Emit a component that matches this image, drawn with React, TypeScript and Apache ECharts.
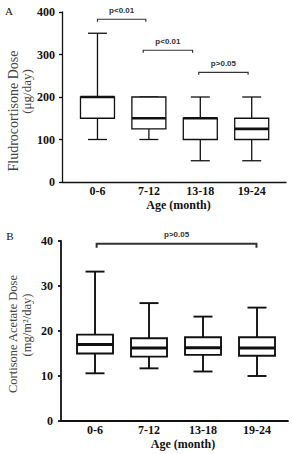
import React, { useEffect, useRef } from "react";
import * as echarts from "echarts";

const categories = ["0-6", "7-12", "13-18", "19-24"];

// Panel A: Fludrocortisone dose (µg/day)
const fludroMin = [100, 100, 50, 50];
const fludroQ1 = [150, 125, 100, 100];
const fludroMedian = [200, 150, 150, 125];
const fludroQ3 = [200, 200, 150, 150];
const fludroMax = [350, 200, 200, 200];
const fludroTicks = [0, 100, 200, 300, 400];

// Panel B: Cortisone acetate dose (mg/m²/day)
const cortMin = [10.6, 11.7, 11.0, 10.0];
const cortQ1 = [15.0, 14.3, 14.7, 14.5];
const cortMedian = [17.0, 16.2, 16.3, 16.2];
const cortQ3 = [19.2, 18.4, 18.6, 18.6];
const cortMax = [33.2, 26.2, 23.2, 25.2];
const cortTicks = [0, 10, 20, 30, 40];

// significance brackets
const bracketsAFrom = [0, 0.89, 1.97];
const bracketsATo = [0.94, 1.85, 2.93];
const bracketsAY = [383, 310, 258];
const bracketsALabel = ["p<0.01", "p<0.01", "p>0.05"];

const bracketsBFrom = [0.03];
const bracketsBTo = [2.99];
const bracketsBY = [39.4];
const bracketsBLabel = ["p>0.05"];

const SERIF = "'Liberation Serif', 'DejaVu Serif', serif";
const SANS = "'Liberation Sans', Arial, sans-serif";
const INK = "#111";

function boxRender(boxW: number, capW: number, lw: number, medLw: number) {
  return (params: any, api: any) => {
    const x = api.value(0);
    const pMin = api.coord([x, api.value(1)]);
    const pQ1 = api.coord([x, api.value(2)]);
    const pMed = api.coord([x, api.value(3)]);
    const pQ3 = api.coord([x, api.value(4)]);
    const pMax = api.coord([x, api.value(5)]);
    const cx = pMed[0];
    const st = { stroke: INK, lineWidth: lw, fill: null };
    return {
      type: "group",
      children: [
        { type: "line", shape: { x1: cx, y1: pMax[1], x2: cx, y2: pQ3[1] }, style: st },
        { type: "line", shape: { x1: cx, y1: pQ1[1], x2: cx, y2: pMin[1] }, style: st },
        { type: "line", shape: { x1: cx - capW / 2, y1: pMax[1], x2: cx + capW / 2, y2: pMax[1] }, style: st },
        { type: "line", shape: { x1: cx - capW / 2, y1: pMin[1], x2: cx + capW / 2, y2: pMin[1] }, style: st },
        {
          type: "rect",
          shape: { x: cx - boxW / 2, y: pQ3[1], width: boxW, height: pQ1[1] - pQ3[1] },
          style: { stroke: INK, lineWidth: lw, fill: "#fff" },
        },
        {
          type: "line",
          shape: { x1: cx - boxW / 2, y1: pMed[1], x2: cx + boxW / 2, y2: pMed[1] },
          style: { stroke: INK, lineWidth: medLw },
        },
      ],
    };
  };
}

function bracketRender(labels: string[], lw: number, tick: number) {
  return (params: any, api: any) => {
    const p0 = api.coord([api.value(0), api.value(2)]);
    const p1 = api.coord([api.value(1), api.value(2)]);
    return {
      type: "group",
      children: [
        {
          type: "polyline",
          shape: { points: [[p0[0], p0[1] + tick], [p0[0], p0[1]], [p1[0], p1[1]], [p1[0], p1[1] + tick]] },
          style: { stroke: "#333", lineWidth: lw, fill: null },
        },
        {
          type: "text",
          x: (p0[0] + p1[0]) / 2,
          y: p0[1] - 9,
          style: {
            text: labels[params.dataIndex],
            fill: "#333",
            font: `bold 8px ${SANS}`,
            align: "center",
            verticalAlign: "middle",
          },
        },
      ],
    };
  };
}

export default function App() {
  const ref = useRef<HTMLDivElement>(null);
  useEffect(() => {
    if (!ref.current) return;
    const chart = echarts.init(ref.current, null, { renderer: "svg" });

    const boxDataA = categories.map((_, i) => [i, fludroMin[i], fludroQ1[i], fludroMedian[i], fludroQ3[i], fludroMax[i]]);
    const boxDataB = categories.map((_, i) => [i, cortMin[i], cortQ1[i], cortMedian[i], cortQ3[i], cortMax[i]]);
    const brA = bracketsAFrom.map((f, i) => [f, bracketsATo[i], bracketsAY[i]]);
    const brB = bracketsBFrom.map((f, i) => [f, bracketsBTo[i], bracketsBY[i]]);

    const xLabel = (fs: number, margin: number) => ({
      customValues: [0, 1, 2, 3],
      formatter: (v: number) => categories[Math.round(v)] ?? "",
      fontFamily: SERIF,
      fontWeight: "bold",
      fontSize: fs,
      color: INK,
      margin,
    });
    const yLabel = (fs: number, margin: number) => ({
      fontFamily: SERIF,
      fontWeight: "bold",
      fontSize: fs,
      color: INK,
      margin,
    });

    chart.setOption({
      animation: false,
      backgroundColor: "#fff",
      grid: [
        { left: 62, top: 12, width: 224, height: 170 },
        { left: 61, top: 241, width: 227, height: 180 },
      ],
      xAxis: [
        {
          type: "value",
          gridIndex: 0,
          min: -0.69,
          max: 3.667,
          axisLine: { show: true, onZero: false, lineStyle: { color: INK, width: 1.3 } },
          axisTick: { show: false },
          splitLine: { show: false },
          axisLabel: xLabel(12, 3),
        },
        {
          type: "value",
          gridIndex: 1,
          min: -0.63,
          max: 3.574,
          axisLine: { show: true, onZero: false, lineStyle: { color: INK, width: 1.8 } },
          axisTick: { show: false },
          splitLine: { show: false },
          axisLabel: xLabel(12, 3),
        },
      ],
      yAxis: [
        {
          type: "value",
          gridIndex: 0,
          min: fludroTicks[0],
          max: fludroTicks[fludroTicks.length - 1],
          interval: 100,
          axisLine: { show: true, onZero: false, lineStyle: { color: INK, width: 1.3 } },
          axisTick: { show: true, length: 3, lineStyle: { color: INK, width: 1.3 } },
          splitLine: { show: false },
          axisLabel: yLabel(12, 7),
        },
        {
          type: "value",
          gridIndex: 1,
          min: cortTicks[0],
          max: cortTicks[cortTicks.length - 1],
          interval: 10,
          axisLine: { show: true, onZero: false, lineStyle: { color: INK, width: 1.8 } },
          axisTick: { show: true, length: 3, lineStyle: { color: INK, width: 1.8 } },
          splitLine: { show: false },
          axisLabel: yLabel(12, 8),
        },
      ],
      series: [
        {
          type: "custom",
          xAxisIndex: 0,
          yAxisIndex: 0,
          data: boxDataA,
          encode: { x: 0, y: [1, 2, 3, 4, 5] },
          renderItem: boxRender(34, 19, 1.3, 2.6),
        },
        {
          type: "custom",
          xAxisIndex: 0,
          yAxisIndex: 0,
          data: brA,
          encode: { x: [0, 1], y: 2 },
          renderItem: bracketRender(bracketsALabel, 1.2, 2.5),
        },
        {
          type: "custom",
          xAxisIndex: 1,
          yAxisIndex: 1,
          data: boxDataB,
          encode: { x: 0, y: [1, 2, 3, 4, 5] },
          renderItem: boxRender(36, 19, 1.9, 3),
        },
        {
          type: "custom",
          xAxisIndex: 1,
          yAxisIndex: 1,
          data: brB,
          encode: { x: [0, 1], y: 2 },
          renderItem: bracketRender(bracketsBLabel, 2, 4),
        },
      ],
      graphic: [
        { type: "text", x: 9, y: 10.5, style: { text: "A", font: `11px ${SERIF}`, fill: INK, align: "center", verticalAlign: "middle" } },
        { type: "text", x: 10, y: 236, style: { text: "B", font: `11px ${SERIF}`, fill: INK, align: "center", verticalAlign: "middle" } },
        { type: "text", x: 13, y: 111, rotation: Math.PI / 2, style: { text: "Fludrocortisone Dose", font: `14px ${SERIF}`, fill: "#444", align: "center", verticalAlign: "middle" } },
        { type: "text", x: 26, y: 91.5, rotation: Math.PI / 2, style: { text: "(μg/day)", font: `13px ${SERIF}`, fill: "#444", align: "center", verticalAlign: "middle" } },
        { type: "text", x: 13, y: 334, rotation: Math.PI / 2, style: { text: "Cortisone Acetate Dose", font: `12.5px ${SERIF}`, fill: "#444", align: "center", verticalAlign: "middle" } },
        { type: "text", x: 27, y: 325, rotation: Math.PI / 2, style: { text: "(mg/m²/day)", font: `12.5px ${SERIF}`, fill: "#444", align: "center", verticalAlign: "middle" } },
        { type: "text", x: 178.5, y: 205, style: { text: "Age (month)", font: `bold 12px ${SERIF}`, fill: INK, align: "center", verticalAlign: "middle" } },
        { type: "text", x: 183, y: 444, style: { text: "Age (month)", font: `bold 12px ${SERIF}`, fill: INK, align: "center", verticalAlign: "middle" } },
      ],
    });
    return () => chart.dispose();
  }, []);
  return (
    <div
      ref={ref}
      style={{ position: "absolute", left: 0, top: 0, width: 292, height: 454, background: "#fff" }}
    />
  );
}
